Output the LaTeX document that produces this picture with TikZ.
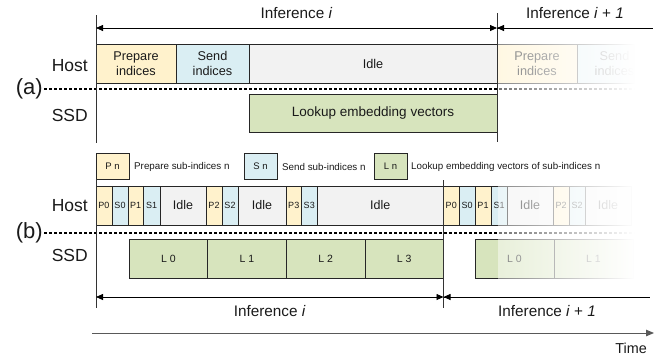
\documentclass[tikz,border=0pt]{standalone}
\usepackage{fontspec}
\setmainfont{Liberation Sans}
\usetikzlibrary{arrows.meta,fadings}

\definecolor{prepfill}{HTML}{FFF2CC}
\definecolor{sendfill}{HTML}{DAEEF3}
\definecolor{idlefill}{HTML}{F2F2F2}
\definecolor{lookfill}{HTML}{D7E4BD}
\definecolor{edgecol}{HTML}{262626}
\definecolor{inkcol}{HTML}{1A1A1A}

% white veil that thickens to the right (next inference fades out)
\tikzfading[name=veil, left color=transparent!55, right color=transparent!0]

\begin{document}
\begin{tikzpicture}[x=1pt, y=-1pt,
  every node/.style={text=inkcol},
  cell/.style={draw=edgecol, line width=0.7pt, rectangle, inner sep=0pt,
               outer sep=0pt, anchor=north west, align=center},
  prep/.style={cell, fill=prepfill},
  send/.style={cell, fill=sendfill},
  idle/.style={cell, fill=idlefill},
  look/.style={cell, fill=lookfill},
  rowa/.style={minimum height=38.5pt, font=\fontsize{12.7}{15}\selectfont},
  rowssd/.style={minimum height=38pt, font=\fontsize{13.5}{15}\selectfont},
  rowb/.style={minimum height=39pt, font=\fontsize{9}{10}\selectfont},
  idleb/.style={font=\fontsize{12.5}{14}\selectfont},
  rowl/.style={minimum height=39pt, font=\fontsize{10.5}{12}\selectfont},
  legbox/.style={minimum width=33pt, minimum height=25.5pt,
                 font=\fontsize{9.5}{11}\selectfont},
  legtext/.style={anchor=west, inner sep=0pt, font=\fontsize{9.8}{11}\selectfont},
  rowlabel/.style={anchor=base east, inner sep=0pt, font=\fontsize{17.5}{20}\selectfont},
  partlabel/.style={anchor=base east, inner sep=0pt, font=\fontsize{22}{24}\selectfont},
  inflabel/.style={anchor=base, inner sep=0pt, font=\fontsize{15.3}{17}\selectfont},
  sepline/.style={line width=1.2pt, dash pattern=on 3pt off 2pt, black},
  mark line/.style={line width=0.8pt, black!80},
  span/.style={line width=0.8pt, black, arrows={Triangle[length=7pt,width=6pt]-Triangle[length=7pt,width=6pt]}},
]
\useasboundingbox (0,0) rectangle (670,360);

%% ---------------- (a) whole-batch pipeline ----------------
\node[prep, rowa, minimum width=80pt]  (pa)  at (96,44.5)     {Prepare\\indices};
\node[send, rowa, minimum width=73pt]  (sa)  at (pa.north east) {Send\\indices};
\node[idle, rowa, minimum width=248pt] (ia)  at (sa.north east) {Idle};
\node[prep, rowa, minimum width=80pt]  (pa2) at (ia.north east) {Prepare\\indices};
\node[send, rowa, minimum width=75pt]  (sa2) at (pa2.north east) {Send\\indices};

\node[look, rowssd, minimum width=248pt] (la) at (249,94) {Lookup embedding vectors};

\coordinate (da0) at (44,89);
\coordinate (da1) at (640,89);
\draw[sepline] (da0) -- (da1);

%% ---------------- (b) sub-batch pipeline ----------------
% host row, inference i
\node[prep, rowb, minimum width=16pt]    (bp0) at (96,186)        {P0};
\node[send, rowb, minimum width=16pt]    (bs0) at (bp0.north east) {S0};
\node[prep, rowb, minimum width=15.5pt]  (bp1) at (bs0.north east) {P1};
\node[send, rowb, minimum width=16.5pt]  (bs1) at (bp1.north east) {S1};
\node[idle, rowb, idleb, minimum width=46pt] (bi1) at (bs1.north east) {Idle};
\node[prep, rowb, minimum width=16pt]    (bp2) at (bi1.north east) {P2};
\node[send, rowb, minimum width=16pt]    (bs2) at (bp2.north east) {S2};
\node[idle, rowb, idleb, minimum width=48pt] (bi2) at (bs2.north east) {Idle};
\node[prep, rowb, minimum width=15.5pt]  (bp3) at (bi2.north east) {P3};
\node[send, rowb, minimum width=15.5pt]  (bs3) at (bp3.north east) {S3};
\node[idle, rowb, idleb, minimum width=126.5pt] (bi3) at (bs3.north east) {Idle};
% host row, inference i+1
\node[prep, rowb, minimum width=15.5pt]  (cp0) at (bi3.north east) {P0};
\node[send, rowb, minimum width=16pt]    (cs0) at (cp0.north east) {S0};
\node[prep, rowb, minimum width=16pt]    (cp1) at (cs0.north east) {P1};
\node[send, rowb, minimum width=16pt]    (cs1) at (cp1.north east) {S1};
\node[idle, rowb, idleb, minimum width=46pt] (ci1) at (cs1.north east) {Idle};
\node[prep, rowb, minimum width=16pt]    (cp2) at (ci1.north east) {P2};
\node[send, rowb, minimum width=16pt]    (cs2) at (cp2.north east) {S2};
\node[idle, rowb, idleb, minimum width=46pt] (ci2) at (cs2.north east) {Idle};

% SSD row
\node[look, rowl, minimum width=78.625pt] (bl0) at (129,239)        {L 0};
\node[look, rowl, minimum width=78.625pt] (bl1) at (bl0.north east) {L 1};
\node[look, rowl, minimum width=78.625pt] (bl2) at (bl1.north east) {L 2};
\node[look, rowl, minimum width=78.625pt] (bl3) at (bl2.north east) {L 3};
\node[look, rowl, minimum width=79pt]     (cl0) at (475,239)        {L 0};
\node[look, rowl, minimum width=79pt]     (cl1) at (cl0.north east) {L 1};

\coordinate (db0) at (44,233);
\coordinate (db1) at (640,233);
\draw[sepline] (db0) -- (db1);

%% fade-out of the following inference
\fill[white, path fading=veil] (497.6,40) rectangle (635,137);
\fill[white] (634.5,40) rectangle (670,137);
\fill[white, path fading=veil] (497.6,182) rectangle (635,283);
\fill[white] (634.5,182) rectangle (670,283);

%% legend
\node[prep, legbox] (kp) at (96,153.5)  {P n};
\node[legtext] (kpt) at (134,166.5) {Prepare sub-indices n};
\node[send, legbox] (ks) at (244,153.5) {S n};
\node[legtext] (kst) at (282,166.5) {Send sub-indices n};
\node[look, legbox] (kl) at (374,153.5) {L n};
\node[legtext] (klt) at (411,166.5) {Lookup embedding vectors of sub-indices n};

%% row and part labels
\node[rowlabel]  (hosta) at (88,71)   {Host};
\node[rowlabel]  (ssda)  at (88,121)  {SSD};
\node[partlabel] (parta) at (43,94)   {(a)};
\node[rowlabel]  (hostb) at (88,211)  {Host};
\node[rowlabel]  (ssdb)  at (88,261)  {SSD};
\node[partlabel] (partb) at (43,238)  {(b)};

%% inference boundaries, top
\coordinate (va0) at (96,15);   \coordinate (va1) at (96,143);
\coordinate (vb0) at (497,13);  \coordinate (vb1) at (497,142);
\draw[mark line] (va0) -- (va1);
\draw[mark line] (vb0) -- (vb1);
\coordinate (ta0) at (96,28);
\coordinate (ta1) at (497,28);
\coordinate (ta2) at (653,28);
\draw[span] (ta0) -- (ta1);
\draw[span, -] (ta1) -- (ta2);
\draw[line width=0.8pt, arrows={Triangle[length=7pt,width=6pt]-}] (ta1) -- ([xshift=10pt]ta1);
\node[inflabel] (infa1) at (296.5,18) {Inference \textit{i}};
\node[inflabel] (infa2) at (575,18)   {Inference \textit{i} + \textit{1}};

%% inference boundaries, bottom
\coordinate (vc0) at (96,179);    \coordinate (vc1) at (96,308);
\coordinate (vd0) at (443.5,180); \coordinate (vd1) at (443.5,308);
\draw[mark line] (vc0) -- (vc1);
\draw[mark line] (vd0) -- (vd1);
\coordinate (tb0) at (96,297);
\coordinate (tb1) at (443.5,297);
\coordinate (tb2) at (650,297);
\draw[span] (tb0) -- (tb1);
\draw[span, -] (tb1) -- (tb2);
\draw[line width=0.8pt, arrows={Triangle[length=7pt,width=6pt]-}] (tb1) -- ([xshift=10pt]tb1);
\node[inflabel] (infb1) at (269.75,316) {Inference \textit{i}};
\node[inflabel] (infb2) at (547,316)    {Inference \textit{i} + \textit{1}};

%% time axis
\coordinate (tm0) at (92,333);
\coordinate (tm1) at (654,333);
\draw[line width=1pt, black!65, arrows={-Triangle[length=8pt,width=6.5pt]}] (tm0) -- (tm1);
\node[anchor=base east, inner sep=0pt, font=\fontsize{14.4}{16}\selectfont] (time) at (647,353) {Time};
\end{tikzpicture}
\end{document}
